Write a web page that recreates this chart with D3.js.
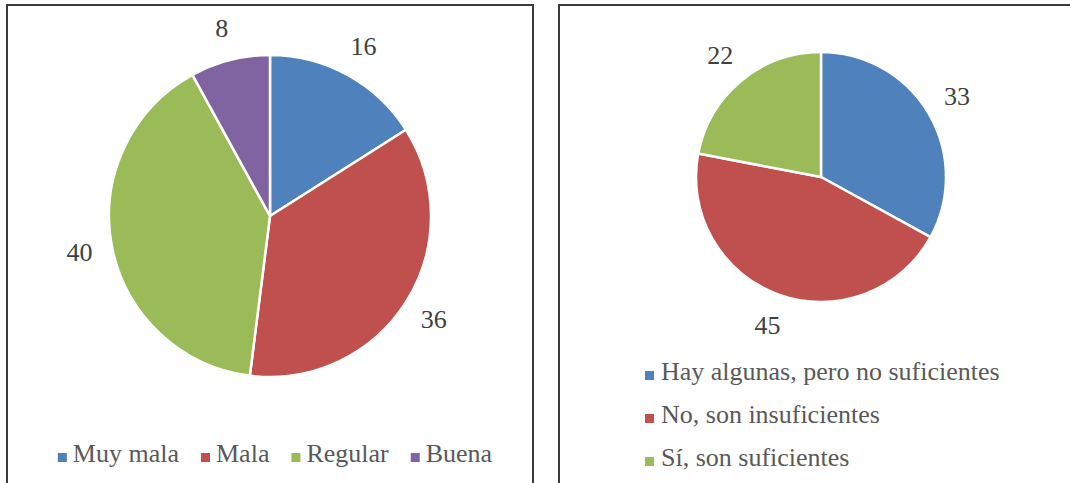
<!DOCTYPE html>
<html>
<head>
<meta charset="utf-8">
<script src="https://cdn.jsdelivr.net/npm/d3@7"></script>
<style>
  body { margin: 0; background: #fff; }
  svg { display: block; }
  text { font-family: 'Liberation Serif', 'Times New Roman', Times, 'DejaVu Serif', serif; }
</style>
</head>
<body>
<div id="chart"></div>
<script>
// left chart
const calidadLabels = ['Muy mala', 'Mala', 'Regular', 'Buena'];
const calidadValues = [16, 36, 40, 8];

// right chart
const suficienciaLabels = ['Hay algunas, pero no suficientes', 'No, son insuficientes', 'Sí, son suficientes'];
const suficienciaValues = [33, 45, 22];

const colors = ['#4F81BD', '#C0504D', '#9BBB59', '#8064A2'];

const svg = d3.select('#chart').append('svg').attr('width', 1070).attr('height', 483);

// panel frames (bottom runs past the picture)
svg.append('rect').attr('x', 7).attr('y', 5).attr('width', 526).attr('height', 500)
    .attr('fill', 'none').attr('stroke', '#3a3a3a').attr('stroke-width', 2);
svg.append('rect').attr('x', 559).attr('y', 5).attr('width', 540).attr('height', 500)
    .attr('fill', 'none').attr('stroke', '#3a3a3a').attr('stroke-width', 2);

function drawPie(labels, values, cx, cy, r) {
    const pie = d3.pie().sort(null).value(d => d)(values);
    const arc = d3.arc().innerRadius(0).outerRadius(r);
    const labelArc = d3.arc().innerRadius(r + 33).outerRadius(r + 33);

    const g = svg.append('g').attr('transform', `translate(${cx},${cy})`);

    g.selectAll('path').data(pie).enter().append('path')
        .attr('d', arc)
        .attr('fill', (d, i) => colors[i])
        .attr('stroke', '#fff')
        .attr('stroke-width', 2.5)
        .attr('stroke-linejoin', 'round');

    g.selectAll('text').data(pie).enter().append('text')
        .attr('x', d => labelArc.centroid(d)[0])
        .attr('y', d => labelArc.centroid(d)[1])
        .attr('text-anchor', 'middle')
        .attr('dominant-baseline', 'central')
        .attr('font-size', 26)
        .attr('fill', '#404040')
        .text(d => d.data);
}

drawPie(calidadLabels, calidadValues, 270, 216, 161);
drawPie(suficienciaLabels, suficienciaValues, 821, 177, 125);

// left legend, one row, centered in the panel
const legL = svg.append('g');
let x = 0;
calidadLabels.forEach(function(name, i) {
    const item = legL.append('g').attr('transform', `translate(${x},0)`);
    item.append('rect').attr('x', 0).attr('y', -9).attr('width', 9).attr('height', 9).attr('fill', colors[i]);
    const t = item.append('text').attr('x', 15).attr('y', 0)
        .attr('font-size', 26).attr('fill', '#595959').text(name);
    x += 15 + t.node().getComputedTextLength() + 22;
});
const legWidth = x - 22;
legL.attr('transform', `translate(${275 - legWidth / 2},462)`);

// right legend, stacked rows
const legR = svg.append('g').attr('transform', 'translate(645,380)');
suficienciaLabels.forEach(function(name, i) {
    const row = legR.append('g').attr('transform', `translate(0,${i * 43})`);
    row.append('rect').attr('x', 0).attr('y', -9).attr('width', 9).attr('height', 9).attr('fill', colors[i]);
    row.append('text').attr('x', 16).attr('y', 0)
        .attr('font-size', 26).attr('fill', '#595959').text(name);
});
</script>
</body>
</html>
